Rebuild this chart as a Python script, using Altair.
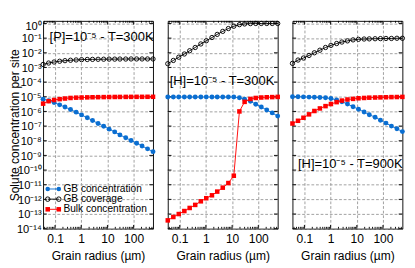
import altair as alt
import pandas as pd
import json

# ---------------- data ----------------
radius = [0.035, 0.057, 0.092, 0.15, 0.24, 0.39, 0.64, 1.03, 1.7, 2.7, 4.4,
          7.2, 11.6, 19, 30, 50, 80, 130, 210, 340, 550]

p300_gb = [6.9e-6, 5.4e-6, 4.0e-6, 2.8e-6, 2.0e-6, 1.35e-6, 8.9e-7, 5.8e-7, 3.7e-7, 2.4e-7, 1.5e-7,
           9.8e-8, 6.2e-8, 4.0e-8, 2.5e-8, 1.6e-8, 1.05e-8, 6.8e-9, 4.4e-9, 2.8e-9, 1.8e-9]
p300_cov = [1.6e-3, 2.0e-3, 2.35e-3, 2.65e-3, 2.9e-3, 3.1e-3, 3.25e-3, 3.4e-3, 3.5e-3, 3.55e-3, 3.6e-3,
            3.65e-3, 3.7e-3, 3.7e-3, 3.75e-3, 3.75e-3, 3.8e-3, 3.8e-3, 3.8e-3, 3.8e-3, 3.8e-3]
p300_bulk = [3.4e-6, 5.0e-6, 6.0e-6, 6.9e-6, 7.6e-6, 8.3e-6, 8.7e-6, 8.9e-6, 9.1e-6, 9.3e-6, 9.4e-6,
             9.5e-6, 9.6e-6, 9.7e-6, 9.75e-6, 9.8e-6, 9.85e-6, 9.9e-6, 9.9e-6, 9.95e-6, 9.95e-6]

h300_gb = [9.6e-6, 9.6e-6, 9.6e-6, 9.6e-6, 9.6e-6, 9.6e-6, 9.6e-6, 9.6e-6, 9.6e-6, 9.6e-6, 9.6e-6,
           9.6e-6, 9.6e-6, 8.5e-6, 6.9e-6, 4.9e-6, 3.1e-6, 2.0e-6, 1.26e-6, 7.9e-7, 4.8e-7]
h300_cov = [1.8e-3, 3.0e-3, 5.0e-3, 8.3e-3, 1.38e-2, 2.3e-2, 4.0e-2, 6.6e-2, 0.11, 0.18, 0.29,
            0.45, 0.65, 0.83, 0.93, 0.98, 1.0, 1.0, 1.0, 1.0, 1.0]
h300_bulk = [3.7e-14, 6.3e-14, 1.0e-13, 1.6e-13, 2.6e-13, 4.2e-13, 7.4e-13, 1.2e-12, 1.9e-12, 3.4e-12, 6.3e-12,
             1.3e-11, 4.1e-11, 1.0e-6, 4.5e-6, 7.1e-6, 8.3e-6, 8.9e-6, 9.3e-6, 9.5e-6, 9.8e-6]

h900_gb = [1.0e-5, 1.0e-5, 9.8e-6, 9.5e-6, 9.3e-6, 8.9e-6, 8.5e-6, 7.6e-6, 6.0e-6, 4.6e-6, 3.2e-6,
           2.1e-6, 1.4e-6, 9.1e-7, 6.0e-7, 4.0e-7, 2.5e-7, 1.6e-7, 1.0e-7, 6.6e-8, 4.2e-8]
h900_cov = [1.9e-3, 3.2e-3, 4.4e-3, 6.6e-3, 1.0e-2, 1.5e-2, 2.3e-2, 3.2e-2, 4.3e-2, 5.4e-2, 6.5e-2,
            7.6e-2, 8.3e-2, 8.7e-2, 8.9e-2, 9.1e-2, 9.3e-2, 9.5e-2, 9.5e-2, 9.8e-2, 9.8e-2]
h900_bulk = [1.5e-7, 2.3e-7, 3.7e-7, 6.3e-7, 1.07e-6, 1.6e-6, 2.3e-6, 3.2e-6, 4.3e-6, 5.5e-6, 6.5e-6,
             7.2e-6, 7.9e-6, 8.3e-6, 8.7e-6, 8.9e-6, 9.1e-6, 9.3e-6, 9.5e-6, 9.6e-6, 9.8e-6]

series_names = ["GB concentration", "GB coverage", "Bulk concentration"]
notes = ["[P]=10⁻⁵ - T=300K", "[H]=10⁻⁵ - T=300K", "[H]=10⁻⁵ - T=900K"]

x_ticks = [0.1, 1, 10, 100]
x_minor = [0.04, 0.05, 0.06, 0.07, 0.08, 0.09, 0.2, 0.3, 0.4, 0.5, 0.6, 0.7, 0.8, 0.9,
           2, 3, 4, 5, 6, 7, 8, 9, 20, 30, 40, 50, 60, 70, 80, 90, 200, 300, 400, 500]
y_ticks = [1, 1e-1, 1e-2, 1e-3, 1e-4, 1e-5, 1e-6, 1e-7, 1e-8, 1e-9, 1e-10, 1e-11, 1e-12, 1e-13, 1e-14]
y_labels = ["10⁰", "10⁻¹", "10⁻²", "10⁻³", "10⁻⁴", "10⁻⁵", "10⁻⁶", "10⁻⁷", "10⁻⁸", "10⁻⁹",
            "10⁻¹⁰", "10⁻¹¹", "10⁻¹²", "10⁻¹³", "10⁻¹⁴"]

# ---------------- styling ----------------
FONT = "Liberation Sans"
BLUE = "#0a6ed1"
RED = "#ff0000"
BLACK = "#000000"
GRID = "#9a9a9a"
W, H = 119, 225

xscale = alt.Scale(type="log", domain=[0.035, 550], nice=False)
yscale = alt.Scale(type="log", domain=[1e-14, 1.5], nice=False)


def xaxis():
    return alt.Axis(values=x_ticks, format="~g", title="Grain radius (µm)", grid=True,
                    gridDash=[3, 2], gridColor=GRID, gridWidth=1, ticks=False, domain=False,
                    labelFontSize=13, titleFontSize=13, titleFontWeight="normal",
                    labelPadding=5, titlePadding=5, labelColor="black", titleColor="black",
                    labelOverlap=False)


def yaxis(first):
    if first:
        expr = json.dumps(y_labels, ensure_ascii=False) + "[round(-log(datum.value)/LN10)]"
        return alt.Axis(values=y_ticks, grid=True, gridDash=[3, 2], gridColor=GRID, gridWidth=1,
                        ticks=False, domain=False, labelExpr=expr, labelFontSize=12,
                        labelBaseline={"expr": "datum.value >= 1 ? 'top' : 'middle'"},
                        labelOffset={"expr": "datum.value >= 1 ? -2.5 : 0"},
                        labelOverlap=False, labelPadding=2,
                        title="Solute concentration per site", titleFontSize=13,
                        titleFontWeight="normal", titlePadding=2, minExtent=22, maxExtent=22,
                        labelColor="black", titleColor="black")
    return alt.Axis(values=y_ticks, grid=True, gridDash=[3, 2], gridColor=GRID, gridWidth=1,
                    ticks=False, domain=False, labels=False, title=None)


def panel(gb, cov, bulk, note, note_x, note_y, first):
    n = len(radius)
    df = pd.DataFrame({"r": radius * 3, "v": gb + cov + bulk,
                       "s": [series_names[0]] * n + [series_names[1]] * n + [series_names[2]] * n})
    base = alt.Chart(df)
    X = alt.X("r:Q", scale=xscale, axis=xaxis())
    Y = alt.Y("v:Q", scale=yscale, axis=yaxis(first))

    def sub(name):
        return base.transform_filter(alt.datum.s == name)

    layers = []
    # inward ticks
    tdf = alt.Chart(pd.DataFrame({"r": x_minor}))
    layers.append(tdf.mark_rule(color="black", strokeWidth=1).encode(x=X, y=alt.value(H), y2=alt.value(H - 2)))
    layers.append(tdf.mark_rule(color="black", strokeWidth=1).encode(x=X, y=alt.value(0), y2=alt.value(2)))
    mdf = alt.Chart(pd.DataFrame({"r": x_ticks}))
    layers.append(mdf.mark_rule(color="black", strokeWidth=1).encode(x=X, y=alt.value(H), y2=alt.value(H - 4)))
    layers.append(mdf.mark_rule(color="black", strokeWidth=1).encode(x=X, y=alt.value(0), y2=alt.value(4)))
    ydf = alt.Chart(pd.DataFrame({"v": y_ticks}))
    layers.append(ydf.mark_rule(color="black", strokeWidth=1).encode(y=Y, x=alt.value(0), x2=alt.value(4)))
    layers.append(ydf.mark_rule(color="black", strokeWidth=1).encode(y=Y, x=alt.value(W - 4), x2=alt.value(W)))

    # series
    layers.append(sub(series_names[0]).mark_line(color=BLUE, strokeWidth=1).encode(x=X, y=Y))
    layers.append(sub(series_names[0]).mark_point(shape="circle", filled=True, size=28, color=BLUE, opacity=1)
                  .encode(x=X, y=Y))
    layers.append(sub(series_names[1]).mark_line(color=BLACK, strokeWidth=1).encode(x=X, y=Y))
    layers.append(sub(series_names[1]).mark_point(shape="circle", filled=False, size=22, color=BLACK,
                                                  strokeWidth=1, opacity=1).encode(x=X, y=Y))
    layers.append(sub(series_names[2]).mark_line(color=RED, strokeWidth=1).encode(x=X, y=Y))
    layers.append(sub(series_names[2]).mark_point(shape="square", filled=True, size=24, color=RED, opacity=1)
                  .encode(x=X, y=Y))

    one = alt.Chart(pd.DataFrame({"k": [0]}))
    layers.append(one.mark_text(align="left", baseline="middle", fontSize=14, color="black")
                  .encode(x=alt.value(note_x), y=alt.value(note_y), text=alt.value(note)))

    if first:
        styles = [(BLUE, "circle", True), (BLACK, "circle", False), (RED, "square", True)]
        for k, (col, shp, fil) in enumerate(styles):
            yy = 182 + 11 * k
            layers.append(one.mark_rule(color=col, strokeWidth=1)
                          .encode(x=alt.value(5), x2=alt.value(17), y=alt.value(yy)))
            for xx in (5, 17):
                layers.append(one.mark_point(shape=shp, filled=fil, size=24, color=col, opacity=1,
                                             strokeWidth=1)
                              .encode(x=alt.value(xx), y=alt.value(yy)))
            layers.append(one.mark_text(align="left", baseline="middle", fontSize=11, color="black")
                          .encode(x=alt.value(22), y=alt.value(yy), text=alt.value(series_names[k])))

    return alt.layer(*layers).properties(width=W, height=H)


p1 = panel(p300_gb, p300_cov, p300_bulk, notes[0], 7, 18, True)
p2 = panel(h300_gb, h300_cov, h300_bulk, notes[1], 2, 65, False)
p3 = panel(h900_gb, h900_cov, h900_bulk, notes[2], 6, 155, False)

chart = (alt.hconcat(p1, p2, p3, spacing=6)
         .properties(padding=0)
         .configure(font=FONT)
         .configure_view(stroke="black", strokeWidth=1))

chart.save("out.html", embed_options={"renderer": "svg", "actions": False})
